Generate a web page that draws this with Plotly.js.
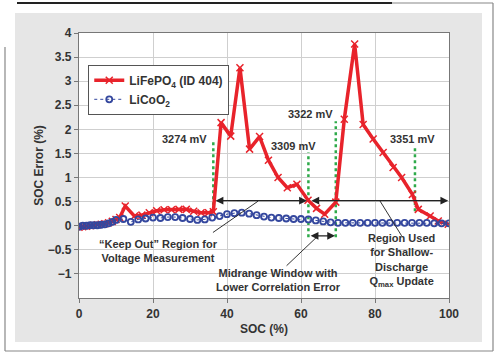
<!DOCTYPE html>
<html><head><meta charset="utf-8">
<script src="https://cdn.plot.ly/plotly-3.0.1.min.js"></script>
<style>html,body{margin:0;padding:0;background:#fff}#c{width:500px;height:356px}</style>
</head><body><div id="c"></div>
<script>
// ---- data ----
const lifepoX = [0,1,2,3,4,5,6,7,8,9,10,11,12.5,15,17,19,21,23,25,27,29,31,33,35,36.3,38.4,41,43.5,46.1,48.8,51.2,53.8,56.3,58.9,61.9,64.2,66.4,69.4,71.7,74.5,76.8,79.5,82.2,84.9,87.2,90.1,91.7,94.9,97.1,99.8];
const lifepoY = [-0.03,-0.02,-0.01,0,0.01,0.02,0.03,0.04,0.06,0.09,0.13,0.17,0.41,0.2,0.22,0.27,0.31,0.33,0.33,0.34,0.34,0.3,0.27,0.27,0.29,2.14,1.86,3.28,1.59,1.85,1.36,1.0,0.79,0.86,0.53,0.36,0.24,0.49,2.21,3.77,2.1,1.8,1.52,1.21,1.0,0.65,0.34,0.2,0.1,0.03];
const licooX = [0,1,2,3,4,5,6,7,8,9,10,12,14,16,18,20,22,24,26,28,30,32,34,36,38,40,42,44,46,48,50,52,54,56,58,60,62,64,66,68,70,72,74,76,78,80,82,84,86,88,90,92,94,96,98,100];
const licooY = [-0.02,0,0,0.01,0.01,0.01,0.02,0.03,0.05,0.08,0.12,0.14,0.08,0.13,0.15,0.17,0.16,0.18,0.18,0.16,0.14,0.12,0.13,0.17,0.2,0.24,0.26,0.27,0.25,0.22,0.19,0.17,0.16,0.15,0.14,0.14,0.13,0.11,0.09,0.07,0.06,0.06,0.06,0.06,0.06,0.06,0.06,0.06,0.06,0.06,0.06,0.06,0.06,0.05,0.05,0.05];
const seriesNames = ["LiFePO<sub>4</sub> (ID 404)", "LiCoO<sub>2</sub>"];
const xTicks = [0,20,40,60,80,100];
const yTicks = [-1,-0.5,0,0.5,1,1.5,2,2.5,3,3.5,4];
const yTickText = ["\u22121","\u22120.5","0","0.5","1","1.5","2","2.5","3","3.5","4"];
// voltage markers: SOC position, bottom, top, label
const vX = [36.3, 62.0, 69.4, 90.8];
const vBot = [0.3, -0.24, -0.24, 0.3];
const vTop = [1.79, 1.52, 2.17, 1.67];
const vLabel = ["3274 mV","3309 mV","3322 mV","3351 mV"];
// label anchor points (centre of each label)
const vLabX = [28.6, 58.0, 62.5, 90.2];
const vLabY = [1.79, 1.66, 2.31, 1.81];

// ---- layout helpers ----
const W=500,H=356,L=79,R=51,T=33,B=58;
const pw=W-L-R, ph=H-T-B;
const px=x=>(x-L)/pw, py=y=>(H-B-y)/ph;
const F="Liberation Sans, Arial, sans-serif";
const txt='#333';

const traces=[
 {x:lifepoX,y:lifepoY,name:seriesNames[0],mode:'lines+markers',
  line:{color:'#e8232b',width:3.5},
  marker:{symbol:'x-thin-open',size:7,color:'#e8232b',line:{color:'#e8232b',width:1.5}}},
 {x:licooX,y:licooY,name:seriesNames[1],mode:'lines+markers',
  line:{color:'#34479e',width:1,dash:'dot'},
  marker:{symbol:'circle-open',size:6,color:'#34479e',line:{color:'#34479e',width:1.8}}}
];

const shapes=[
 {type:'rect',xref:'paper',yref:'paper',x0:px(15),x1:px(482),y0:py(342),y1:py(13),fillcolor:'#e6e6e6',line:{width:0},layer:'below'},
 {type:'rect',xref:'paper',yref:'paper',x0:0,x1:1,y0:0,y1:1,fillcolor:'#ffffff',line:{width:0},layer:'below'},
 {type:'line',xref:'paper',yref:'paper',x0:px(5),x1:px(5),y0:py(47),y1:py(351),line:{color:'#888',width:1.2}},
 {type:'line',xref:'paper',yref:'paper',x0:px(5),x1:px(493),y0:py(351),y1:py(351),line:{color:'#888',width:1.2}},
 {type:'line',xref:'paper',yref:'paper',x0:px(493),x1:px(493),y0:py(351),y1:py(3),line:{color:'#888',width:1.2}},
 {type:'line',xref:'paper',yref:'paper',x0:px(392),x1:px(493),y0:py(3),y1:py(3),line:{color:'#888',width:1.2}},
 {type:'line',xref:'paper',yref:'paper',x0:px(17),x1:px(392),y0:py(3),y1:py(3),line:{color:'#222',width:2.2}},
 // leader lines
 {type:'line',x0:36.2,y0:-0.14,x1:48.4,y1:0.51,line:{color:'#333',width:1}},
 {type:'line',x0:56.1,y0:-0.83,x1:64.2,y1:-0.24,line:{color:'#333',width:1}},
 {type:'line',x0:81.3,y0:0.52,x1:87.2,y1:-0.21,line:{color:'#333',width:1}}
];
vX.forEach((x,i)=>shapes.push({type:'line',x0:x,x1:x,y0:vBot[i],y1:vTop[i],layer:'below',line:{color:'#2eaa4a',width:2.5,dash:'dot'}}));

const ann=[];
const lab={family:F,size:11,color:txt,weight:'bold'};
vLabel.forEach((t,i)=>ann.push({x:vLabX[i],y:vLabY[i],xref:'x',yref:'y',text:t,showarrow:false,
  xanchor:'center',yanchor:'middle',font:lab}));
// double-headed arrows
function dbl(x0,x1,y){ann.push({x:x1,y:y,ax:x0,ay:y,xref:'x',yref:'y',axref:'x',ayref:'y',text:'',showarrow:true,
  arrowhead:2,startarrowhead:2,arrowside:'end+start',arrowsize:1.3,startarrowsize:1.3,arrowwidth:1.2,arrowcolor:'#222'});}
dbl(36.5,61.6,0.52);
dbl(62.4,99.8,0.52);
dbl(62.2,69.2,-0.21);
ann.push({x:21.6,y:-0.52,text:'\u201cKeep Out\u201d Region for<br>Voltage Measurement',showarrow:false,font:lab});
ann.push({x:54,y:-1.13,text:'Midrange Window with<br>Lower Correlation Error',showarrow:false,font:lab});
ann.push({x:87.2,y:-0.72,text:'Region Used<br>for Shallow-<br>Discharge<br>Q<sub>max</sub> Update',showarrow:false,font:lab});

const layout={
 width:W,height:H,margin:{l:L,r:R,t:T,b:B,pad:0},
 paper_bgcolor:'#fff',plot_bgcolor:'rgba(0,0,0,0)',
 font:{family:F,size:12,color:txt,weight:'bold'},
 showlegend:true,
 legend:{x:0.025,y:0.88,xanchor:'left',yanchor:'top',bgcolor:'#fff',bordercolor:'#555',borderwidth:1,
   font:{family:F,size:12,color:txt,weight:'bold'},tracegroupgap:0,itemwidth:30},
 xaxis:{range:[0,100],tickvals:xTicks,ticktext:xTicks.map(String),showgrid:true,gridcolor:'#cfcfcf',gridwidth:1,
   zeroline:false,showline:true,mirror:true,linecolor:'#777',linewidth:1.2,ticks:'outside',ticklen:4,tickcolor:'#777',
   tickfont:{family:F,size:12,color:txt,weight:'bold'},automargin:false,
   title:{text:'SOC (%)',font:{family:F,size:12,color:txt,weight:'bold'},standoff:5}},
 yaxis:{range:[-1.5,4],tickvals:yTicks,ticktext:yTickText,showgrid:true,gridcolor:'#cfcfcf',gridwidth:1,
   zeroline:false,showline:true,mirror:true,linecolor:'#777',linewidth:1.2,ticks:'outside',ticklen:4,tickcolor:'#777',
   tickfont:{family:F,size:12,color:txt,weight:'bold'},automargin:false,
   title:{text:'SOC Error (%)',font:{family:F,size:12,color:txt,weight:'bold'},standoff:1}},
 shapes:shapes,annotations:ann
};
Plotly.newPlot('c',traces,layout,{staticPlot:true,displayModeBar:false});
</script></body></html>
